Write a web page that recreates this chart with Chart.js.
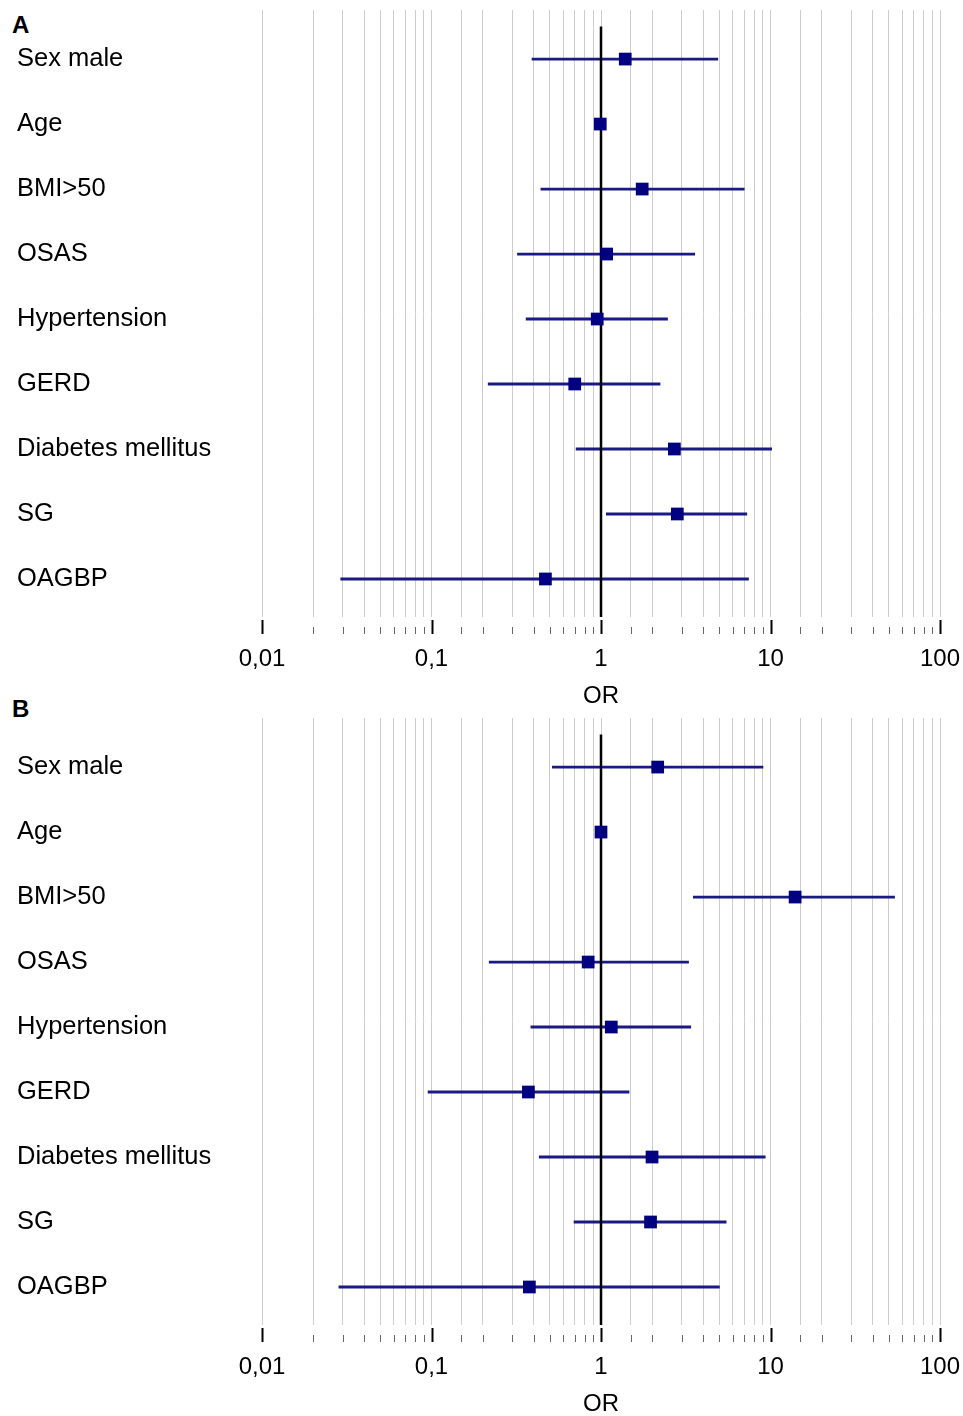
<!DOCTYPE html>
<html>
<head>
<meta charset="utf-8">
<script src="https://cdn.jsdelivr.net/npm/chart.js@4.4.1/dist/chart.umd.min.js"></script>
<style>
  html, body { margin:0; background:#fff; overflow:hidden; font-family:"Liberation Sans", Arial, sans-serif; }
  .panel { position:relative; width:963px; height:708px; }
  .tag { position:absolute; left:12px; font-weight:bold; font-size:24px; color:#000; line-height:1; }
</style>
</head>
<body>
<div class="tag" style="top:13px">A</div>
<div class="tag" style="top:697px">B</div>
<div class="panel"><canvas id="chart-a"></canvas></div>
<div class="panel"><canvas id="chart-b"></canvas></div>
<script>
// ── Data ──────────────────────────────────────────────────────
const ROWS = ['Sex male','Age','BMI>50','OSAS','Hypertension','GERD','Diabetes mellitus','SG','OAGBP'];

const OR_A = [1.39, 0.99, 1.75, 1.08, 0.95, 0.70, 2.71, 2.82, 0.47];
const LO_A = [0.39, 0.98, 0.44, 0.32, 0.36, 0.215, 0.71, 1.07, 0.029];
const HI_A = [4.91, 1.01, 7.03, 3.59, 2.48, 2.24, 10.2, 7.28, 7.45];

const OR_B = [2.16, 1.0, 13.97, 0.84, 1.15, 0.373, 2.0, 1.96, 0.378];
const LO_B = [0.514, 0.99, 3.49, 0.218, 0.384, 0.095, 0.43, 0.69, 0.0283];
const HI_B = [9.07, 1.01, 54.2, 3.30, 3.40, 1.47, 9.35, 5.5, 5.02];

const X_MIN = 0.01, X_MAX = 100;
const REF_X = 1;
const REF_Y = [-0.5, 8.6];
const Y_MIN = -0.755, Y_MAX = 8.585;

// ── Style ─────────────────────────────────────────────────────
const C = { navy:'#000080', ci:'#1a1a84', grid:'#cdcdcd', minorTick:'#666', text:'#000' };
const FONT = '"Liberation Sans", Arial, sans-serif';

const isDecade = v => Math.abs(Math.log10(v) - Math.round(Math.log10(v))) < 1e-9;

// tick marks under the plot: long black at decades, short grey otherwise
const tickMarks = {
  id:'tickMarks',
  afterDraw(chart) {
    const sc = chart.scales.x, ctx = chart.ctx;
    ctx.save();
    sc.ticks.forEach(t => {
      const px = Math.round(sc.getPixelForValue(t.value)) + 0.5;
      const major = isDecade(t.value);
      ctx.strokeStyle = major ? '#000' : C.minorTick;
      ctx.lineWidth = major ? 2 : 1;
      ctx.beginPath();
      ctx.moveTo(px, sc.top + (major ? 3 : 10));
      ctx.lineTo(px, sc.top + 17);
      ctx.stroke();
    });
    ctx.restore();
  }
};

function makeChart(id, or, lo, hi) {
  const datasets = [
    { data: ROWS.map((_, i) => ({ x: or[i], y: i })), pointStyle:'rect', pointRadius:9,
      pointHoverRadius:9, backgroundColor:C.navy, borderColor:C.navy, borderWidth:0, showLine:false },
    { data: REF_Y.map(y => ({ x: REF_X, y })), showLine:true, borderColor:'#000', borderWidth:2.5, pointRadius:0 },
    ...ROWS.map((_, i) => ({
      data: [{ x: lo[i], y: i }, { x: hi[i], y: i }],
      showLine:true, borderColor:C.ci, borderWidth:2.8, pointRadius:0
    }))
  ];
  return new Chart(document.getElementById(id), {
    type:'scatter',
    data:{ datasets },
    options:{
      responsive:true, maintainAspectRatio:false, animation:false,
      layout:{ padding:{ left:17, right:23, top:10, bottom:0 } },
      plugins:{ legend:{ display:false }, tooltip:{ enabled:false } },
      scales:{
        x:{
          type:'logarithmic', min:X_MIN, max:X_MAX,
          grid:{ color:C.grid, lineWidth:1, drawTicks:false },
          border:{ display:false },
          afterFit: ax => { ax.height = 91; ax.paddingRight = 0; ax.paddingLeft = 0; },
          ticks:{ autoSkip:false, maxRotation:0, padding:28, color:C.text,
                  font:{ family:FONT, size:24 },
                  callback: v => isDecade(v) ? String(v).replace('.', ',') : '' },
          title:{ display:true, text:'OR', color:C.text, padding:{ top:0, bottom:-3 },
                  font:{ family:FONT, size:24 } }
        },
        y:{
          type:'linear', reverse:true, min:Y_MIN, max:Y_MAX,
          grid:{ display:false }, border:{ display:false },
          afterBuildTicks: ax => { ax.ticks = ROWS.map((_, i) => ({ value:i })); },
          afterFit: ax => { ax.width = 245; ax.paddingTop = 0; ax.paddingBottom = 0; },
          ticks:{ crossAlign:'far', color:C.text, font:{ family:FONT, size:25.5 },
                  callback: v => ROWS[v] }
        }
      }
    },
    plugins:[tickMarks]
  });
}

makeChart('chart-a', OR_A, LO_A, HI_A);
makeChart('chart-b', OR_B, LO_B, HI_B);
</script>
</body>
</html>
